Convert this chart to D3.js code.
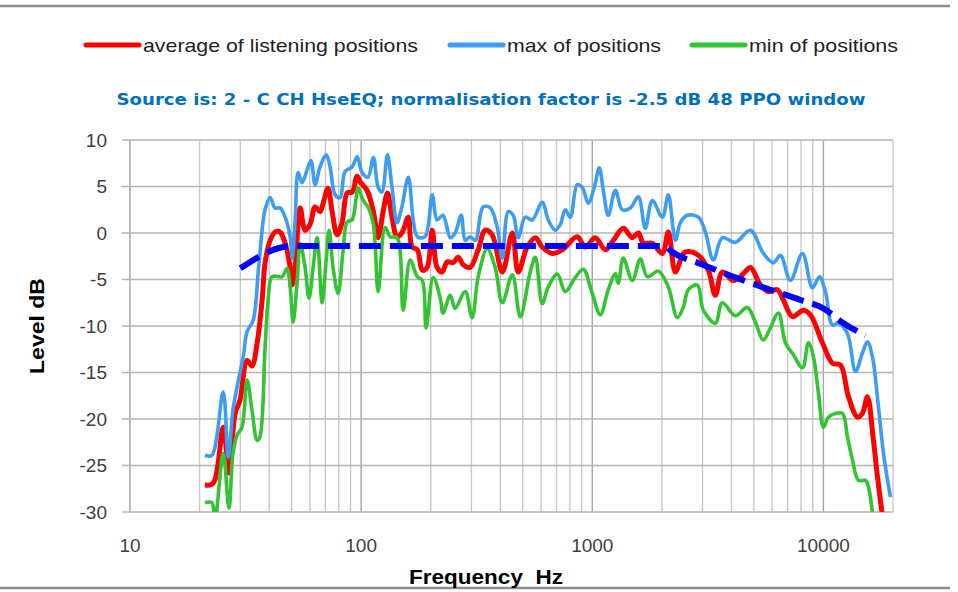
<!DOCTYPE html>
<html>
<head>
<meta charset="utf-8">
<script src="https://cdn.jsdelivr.net/npm/d3@7"></script>
<style>
  body { margin: 0; background: #fff; }
  svg { display: block; }
  .tick-label { font-family: "Liberation Sans", Arial, sans-serif; font-size: 19px; fill: #404040; }
  .axis-title { font-family: "Liberation Sans", Arial, sans-serif; font-size: 21px; font-weight: bold; fill: #000; white-space: pre; }
  .legend-text { font-family: "Liberation Sans Narrow", "Liberation Sans", Arial, sans-serif; font-size: 19px; fill: #222; }
  .title { font-family: "DejaVu Sans", Verdana, sans-serif; font-size: 15px; font-weight: bold; fill: #0070c0; }
</style>
</head>
<body>
<svg id="chart"></svg>
<script>
// data: [frequency Hz, level dB]
const avgPoints = [
  [21.1,-27.1],[22.9,-26.9],[25.3,-20.9],[26.8,-25.8],[28.5,-19.4],[29.9,-18.0],[32.1,-13.7],[33.7,-14.3],
  [35.5,-11.8],[37.3,-7.2],[38.4,-3.2],[40.4,-0.8],[42.4,0.1],[44.6,0.1],[46.9,-1.1],[49.3,-3.7],[50.3,-5.6],
  [51.8,-3.7],[54.5,2.7],[57.2,0.3],[60.1,0.9],[63.2,2.8],[66.4,2.3],[68.5,3.2],[71.9,4.8],[74.9,2.3],[78.7,-0.2],
  [82.7,1.1],[87,4.3],[91.4,4.4],[96.1,6.1],[99,5.5],[106,4.6],[113,2.3],[118.5,-0.5],[124.5,2.3],[130,4.3],
  [136,1.7],[143,-0.4],[150,0.0],[160,1.7],[166,-1.5],[175,-1.8],[184,-4.0],[193,-3.7],[203,0.3],[213,-3.7],
  [224,-4.2],[236,-3.1],[250,-3.2],[263,-2.6],[276,-3.4],[296,-3.7],[321,-1.8],[344,0.3],[369,-0.2],[408,-4.2],
  [451,0.0],[478,-4.2],[523,-1.5],[567,-0.5],[607,-1.5],[671,-2.2],[742,-1.8],[861,-0.4],[933,-1.5],[1030,-0.5],
  [1138,-1.8],[1233,-0.8],[1362,0.5],[1490,-0.5],[1582,0.0],[1663,-1.1],[1819,-1.1],[2009,-2.2],[2133,0.1],
  [2288,-4.2],[2477,-2.2],[2578,-2.0],[2877,-2.4],[3178,-4.0],[3408,-6.7],[3655,-4.2],[4078,-5.1],[4461,-4.5],
  [4831,-3.7],[5337,-5.6],[5780,-6.3],[6322,-6.1],[6712,-7.2],[7342,-9.0],[8193,-8.3],[8785,-8.8],[9901,-11.8],
  [10940,-14.0],[11850,-14.2],[12830,-17.6],[14040,-19.8],[14750,-19.4],[15500,-17.6],[16460,-22.3],[17130,-26.2],
  [18010,-30.5]
];

const maxPoints = [
  [21.1,-23.9],[22.6,-23.9],[25.3,-17.1],[26.6,-24.1],[27.9,-19.0],[29.3,-16.1],[30.9,-13.3],[32.1,-10.6],
  [34.1,-9.4],[36.1,-3.4],[38.4,2.5],[40.4,3.8],[42.4,2.7],[44.6,2.7],[46.9,1.7],[49.3,-0.4],[50.3,-2.7],
  [51.8,1.4],[53.4,6.5],[55.5,5.4],[58.4,6.8],[60.7,7.8],[63.2,5.2],[66.4,7.1],[70.6,8.4],[73.4,7.1],[77.2,4.1],
  [81.1,3.8],[85.2,6.6],[91.4,7.1],[96.1,8.2],[101,6.5],[107,6.0],[113,8.1],[118.5,4.9],[123,4.4],[130,8.4],
  [136,4.9],[143,1.1],[150,2.8],[160,6.0],[168,1.4],[175,-0.4],[189,-0.4],[203,4.1],[213,1.4],[226,1.9],
  [243,-0.5],[255,0.0],[271,1.9],[282,-0.8],[296,-0.4],[312,-0.8],[337,2.8],[362,2.7],[388,0.6],[408,-2.7],
  [433,2.3],[455,1.9],[478,-0.5],[513,1.7],[550,1.4],[607,3.3],[645,1.4],[691,0.3],[727,0.9],[764,2.5],[803,1.7],
  [861,5.2],[905,4.9],[961,3.2],[1020,4.9],[1072,7.0],[1116,4.6],[1173,1.9],[1258,4.6],[1349,2.5],[1461,2.7],
  [1582,3.9],[1696,0.5],[1819,3.5],[2009,1.7],[2133,4.1],[2288,-0.8],[2404,1.1],[2578,1.9],[2877,1.7],[3085,0.1],
  [3341,-2.9],[3655,-0.5],[4159,-1.0],[4831,0.3],[5499,-2.2],[6074,-3.2],[6516,-2.4],[7197,-5.1],[8113,-2.2],
  [8963,-5.9],[9609,-4.7],[10200,-6.3],[10940,-9.9],[11610,-9.7],[12700,-10.8],[13760,-14.9],[14750,-12.9],
  [15500,-11.7],[16290,-13.3],[17300,-18.7],[18190,-23.7],[19500,-28.4]
];

const minPoints = [
  [21.1,-29.0],[22.6,-29.0],[23.3,-31.0],[25.3,-23.7],[26.8,-29.6],[27.9,-23.7],[29.1,-21.7],[30.5,-20.9],
  [32.1,-15.8],[33.7,-19.0],[35.5,-22.3],[36.5,-21.9],[38.4,-12.3],[39.6,-7.2],[41.2,-4.7],[45.5,-4.7],
  [47.8,-3.8],[49.3,-5.8],[50.8,-9.6],[52.8,-5.4],[54.5,-1.1],[57.2,-3.7],[59.5,-7.0],[62,-3.7],[64.5,-0.5],
  [67.8,-7.5],[70.6,-2.9],[72.7,0.3],[75.6,-3.7],[79.5,-6.5],[83.6,-1.8],[87,1.2],[91.4,1.4],[97.1,4.8],
  [102,3.5],[107,2.8],[113,0.9],[118.5,-6.3],[127,0.6],[133.5,-0.4],[143,-0.5],[152,-8.3],[163,-2.9],
  [175,-4.7],[184,-5.1],[191,-10.2],[205,-4.8],[220,-7.0],[226,-8.6],[243,-6.7],[255,-8.1],[282,-6.3],
  [302,-9.1],[321,-4.7],[351,-1.7],[380,-3.7],[408,-7.5],[451,-4.5],[488,-9.0],[539,-4.2],[567,-2.6],
  [607,-7.6],[645,-5.8],[706,-4.4],[764,-6.3],[844,-4.8],[914,-3.9],[1000,-6.5],[1083,-8.8],[1173,-6.1],
  [1258,-4.4],[1296,-5.4],[1362,-2.7],[1490,-5.1],[1614,-2.8],[1731,-4.7],[1931,-4.1],[2133,-5.8],[2333,-9.1],
  [2477,-8.0],[2604,-6.1],[2848,-5.6],[3023,-8.3],[3408,-9.7],[3655,-7.5],[4159,-8.9],[4688,-8.0],[5076,-9.6],
  [5499,-11.5],[5896,-10.2],[6386,-8.6],[6849,-11.8],[7416,-13.1],[8113,-14.5],[8612,-11.8],[9051,-13.3],
  [9515,-17.2],[10000,-20.9],[10510,-19.8],[11270,-19.4],[12090,-19.4],[12700,-21.9],[13350,-24.4],
  [14180,-26.6],[15200,-26.6],[15660,-27.3],[16290,-30.0],[16800,-32.0]
];

const targetPoints = [
  [30,-3.8],[50,-1.4],[2070,-1.4],[2180,-1.9],[2935,-3.3],[4078,-4.7],[5722,-6.0],[7952,-7.2],[10000,-8.1],
  [12210,-9.7],[15200,-11.0]
];

const seriesNames = ["average of listening positions", "max of positions", "min of positions"];
const seriesColors = ["#ff0000", "#3d9df2", "#33c433"];
const levelTicks = [-30, -25, -20, -15, -10, -5, 0, 5, 10];
const freqTicks = [10, 100, 1000, 10000];
const titleText = "Source is: 2 - C CH HseEQ; normalisation factor is -2.5 dB 48 PPO window";

// layout
const width = 958;
const height = 592;
const plot = { left: 130, right: 893, top: 140, bottom: 512 };

const svg = d3.select('#chart').attr('width', width).attr('height', height);

const x = d3.scaleLog().domain([10, 20000]).range([plot.left, plot.right]);
const y = d3.scaleLinear().domain([-30, 10]).range([plot.bottom, plot.top]);

// frame lines top and bottom
svg.append('line').attr('x1', 0).attr('x2', 950).attr('y1', 6).attr('y2', 6)
  .attr('stroke', '#8c8c8c').attr('stroke-width', 2.5);
svg.append('line').attr('x1', 0).attr('x2', 950).attr('y1', 588).attr('y2', 588)
  .attr('stroke', '#8c8c8c').attr('stroke-width', 2.5);

// vertical grid: every 1..9 x decade, up to the end of the axis
const minorFreqs = [];
for (let dec = 10; dec <= 10000; dec *= 10) {
  for (let m = 1; m <= 9; m++) {
    if (dec * m <= 20000) minorFreqs.push(dec * m);
  }
}

const grid = svg.append('g');
grid.selectAll('line.v').data(minorFreqs).enter().append('line')
  .attr('class', 'v')
  .attr('x1', d => x(d)).attr('x2', d => x(d))
  .attr('y1', plot.top).attr('y2', plot.bottom)
  .attr('stroke', d => freqTicks.includes(d) && d !== 10 ? '#a6a6a6' : '#c8c8c8')
  .attr('stroke-width', 1.4);

grid.selectAll('line.h').data(levelTicks).enter().append('line')
  .attr('class', 'h')
  .attr('x1', plot.left - 8).attr('x2', plot.right)
  .attr('y1', d => y(d)).attr('y2', d => y(d))
  .attr('stroke', '#b4b4b4').attr('stroke-width', 1.4);

// left axis line
grid.append('line').attr('x1', plot.left).attr('x2', plot.left)
  .attr('y1', plot.top).attr('y2', plot.bottom)
  .attr('stroke', '#b4b4b4').attr('stroke-width', 1.4);

// tick labels
svg.append('g').selectAll('text').data(levelTicks).enter().append('text')
  .attr('class', 'tick-label')
  .attr('x', 107).attr('y', d => y(d)).attr('dy', '0.35em')
  .attr('text-anchor', 'end')
  .text(d => d);

svg.append('g').selectAll('text').data(freqTicks).enter().append('text')
  .attr('class', 'tick-label')
  .attr('x', d => x(d)).attr('y', 552)
  .attr('text-anchor', 'middle')
  .text(d => d);

// axis titles
svg.append('text').attr('class', 'axis-title')
  .attr('x', 486).attr('y', 584).attr('text-anchor', 'middle')
  .attr('textLength', 154).attr('lengthAdjust', 'spacingAndGlyphs')
  .text('Frequency  Hz');
svg.append('text').attr('class', 'axis-title')
  .attr('transform', 'translate(44,' + ((plot.top + plot.bottom) / 2) + ') rotate(-90)')
  .attr('text-anchor', 'middle')
  .attr('textLength', 96).attr('lengthAdjust', 'spacingAndGlyphs')
  .text('Level dB');

// title
svg.append('text').attr('class', 'title')
  .attr('x', 491).attr('y', 105).attr('text-anchor', 'middle')
  .attr('textLength', 749).attr('lengthAdjust', 'spacingAndGlyphs')
  .text(titleText);

// legend
const legendX = [86, 450, 692];
const legendW = [275, 154, 149];
const legend = svg.append('g');
seriesNames.forEach((name, i) => {
  legend.append('line')
    .attr('x1', legendX[i]).attr('x2', legendX[i] + 53)
    .attr('y1', 45).attr('y2', 45)
    .attr('stroke', seriesColors[i]).attr('stroke-width', 5).attr('stroke-linecap', 'round');
  legend.append('text').attr('class', 'legend-text')
    .attr('x', legendX[i] + 57).attr('y', 52)
    .attr('textLength', legendW[i]).attr('lengthAdjust', 'spacingAndGlyphs')
    .text(name);
});

// clip for the curves
svg.append('clipPath').attr('id', 'plot-clip').append('rect')
  .attr('x', plot.left).attr('y', plot.top - 5)
  .attr('width', plot.right - plot.left).attr('height', plot.bottom - plot.top + 5);

const curves = svg.append('g').attr('clip-path', 'url(#plot-clip)');

const line = d3.line()
  .x(d => x(d[0]))
  .y(d => y(d[1]))
  .curve(d3.curveCatmullRom.alpha(0.5));

const seriesData = [avgPoints, maxPoints, minPoints];
const seriesWidth = [5, 3.6, 3.6];
seriesData.forEach((pts, i) => {
  curves.append('path')
    .datum(pts)
    .attr('fill', 'none')
    .attr('stroke', seriesColors[i])
    .attr('stroke-width', seriesWidth[i])
    .attr('stroke-linejoin', 'round')
    .attr('d', line);
});

// target (dashed)
const targetLine = d3.line()
  .x(d => x(d[0]))
  .y(d => y(d[1]))
  .curve(d3.curveMonotoneX);

curves.append('path')
  .datum(targetPoints)
  .attr('fill', 'none')
  .attr('stroke', '#0000ff')
  .attr('stroke-width', 6)
  .attr('stroke-dasharray', '22,9')
  .attr('d', targetLine);
</script>
</body>
</html>
